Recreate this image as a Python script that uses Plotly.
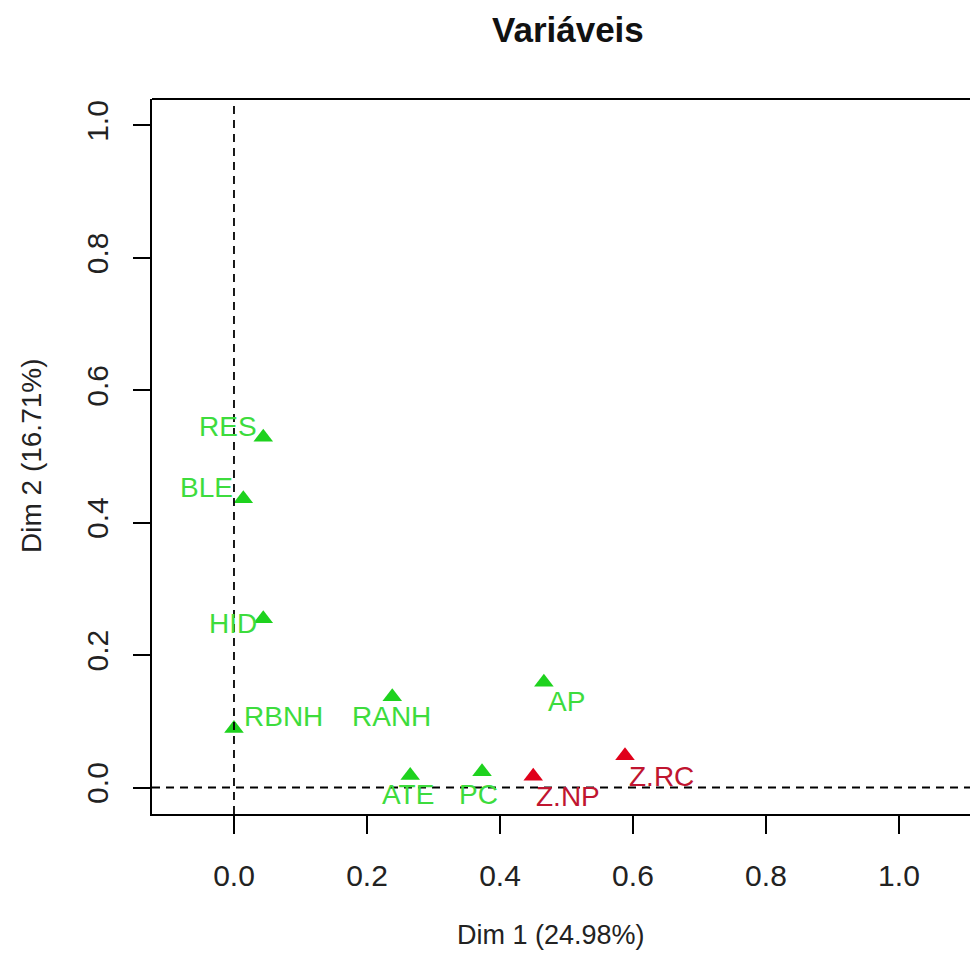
import plotly.graph_objects as go

# Variable coordinates on the first two dimensions
variables = ["RES", "BLE", "HID", "RBNH", "RANH", "AP", "ATE", "PC", "Z.NP", "Z.RC"]
dim1 = [0.044, 0.014, 0.044, 0.000, 0.238, 0.466, 0.265, 0.373, 0.450, 0.588]
dim2 = [0.529, 0.436, 0.255, 0.089, 0.137, 0.159, 0.018, 0.024, 0.017, 0.048]
group = ["active", "active", "active", "active", "active", "active", "active", "active", "sup", "sup"]

x_ticks = [0.0, 0.2, 0.4, 0.6, 0.8, 1.0]
y_ticks = [0.0, 0.2, 0.4, 0.6, 0.8, 1.0]
x_title = "Dim 1 (24.98%)"
y_title = "Dim 2 (16.71%)"
chart_title = "Variáveis"

# label placement relative to each marker (pixels, +y is up)
label_offsets = [(-35, 11), (-37, 11), (-30, -5), (50, 12), (-1, -20),
                 (23, -19), (-2, -19), (-4, -23), (35, -20), (36, -21)]

marker_color = {"active": "#1ed21e", "sup": "#e0001a"}
text_color = {"active": "#3ddc3d", "sup": "#c01530"}

FONT = "Liberation Sans, Arial, sans-serif"

fig = go.Figure()
for g in ["active", "sup"]:
    idx = [i for i, v in enumerate(group) if v == g]
    fig.add_trace(go.Scatter(
        x=[dim1[i] for i in idx], y=[dim2[i] for i in idx],
        mode="markers",
        marker=dict(symbol="triangle-up", size=17, color=marker_color[g],
                    line=dict(width=0)),
        hoverinfo="skip", showlegend=False,
    ))

for i, name in enumerate(variables):
    dx, dy = label_offsets[i]
    fig.add_annotation(
        x=dim1[i], y=dim2[i], text=name, showarrow=False,
        xshift=dx, yshift=dy,
        font=dict(family=FONT, size=28, color=text_color[group[i]]),
    )

# reference lines through the origin
fig.add_shape(type="line", xref="x", yref="paper", x0=0, x1=0, y0=0, y1=1,
              line=dict(color="black", width=1.8, dash="8px,6px"))
fig.add_shape(type="line", xref="paper", yref="y", x0=0, x1=1, y0=0, y1=0,
              line=dict(color="black", width=1.8, dash="8px,6px"))
# top border of the plot box
fig.add_shape(type="line", xref="paper", yref="paper", x0=0, x1=1, y0=1, y1=1,
              line=dict(color="black", width=2))

fig.add_annotation(text=f"<b>{chart_title}</b>", xref="paper", yref="paper",
                   x=(568 - 152) / 818, y=1 + (99 - 30) / 715,
                   showarrow=False, xanchor="center", yanchor="middle",
                   font=dict(family=FONT, size=35, color="#111"))
fig.add_annotation(text=x_title, xref="paper", yref="paper",
                   x=(551 - 152) / 818, y=-(935 - 814) / 715,
                   showarrow=False, xanchor="center", yanchor="middle",
                   font=dict(family=FONT, size=27, color="#222"))
fig.add_annotation(text=y_title, xref="paper", yref="paper",
                   x=-(152 - 31) / 818, y=(814 - 456) / 715, textangle=-90,
                   showarrow=False, xanchor="center", yanchor="middle",
                   font=dict(family=FONT, size=28, color="#222"))

fig.update_xaxes(
    range=[-0.1233, 1.1068], tickvals=x_ticks,
    ticktext=[f"{v:.1f}" for v in x_ticks],
    showgrid=False, zeroline=False, showline=True, linecolor="black", linewidth=2,
    ticks="outside", ticklen=18, tickwidth=1.5, tickcolor="black",
    ticklabelstandoff=16,
    tickfont=dict(family=FONT, size=30, color="#222"),
)
fig.update_yaxes(
    range=[-0.04, 1.04], tickvals=y_ticks,
    ticktext=[f"{v:.1f}" for v in y_ticks],
    showgrid=False, zeroline=False, showline=True, linecolor="black", linewidth=2,
    ticks="outside", ticklen=17, tickwidth=1.5, tickcolor="black",
    tickangle=-90, ticklabelstandoff=13,
    tickfont=dict(family=FONT, size=30, color="#222"),
)
fig.update_layout(
    width=970, height=959,
    margin=dict(l=152, r=0, t=99, b=145),
    plot_bgcolor="white", paper_bgcolor="white",
)
fig.write_html("out.html")
